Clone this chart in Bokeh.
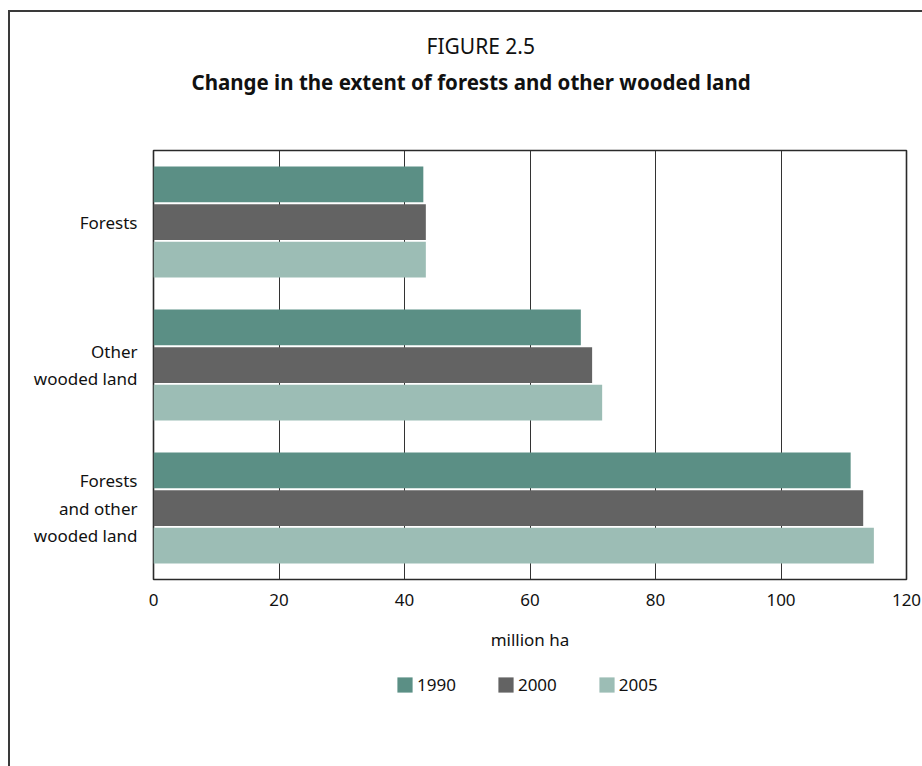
from bokeh.plotting import figure
from bokeh.models import (FactorRange, Range1d, FixedTicker, Legend, LegendItem,
                          Title, ColumnDataSource)
from bokeh.layouts import column
from bokeh.transform import dodge
from bokeh.embed import file_html
from bokeh.resources import INLINE

# ---- data ----
categories = ["Forests", "Other\nwooded land", "Forests\nand other\nwooded land"]
v1990 = [43.0, 68.1, 111.1]
v2000 = [43.4, 69.9, 113.1]
v2005 = [43.4, 71.5, 114.8]
years = ["1990", "2000", "2005"]
x_ticks = [0, 20, 40, 60, 80, 100, 120]

colors = ["#5b8f85", "#636363", "#9cbdb5"]
FONT = "Noto Sans"
EDGE = "#3a3a3a"

src = ColumnDataSource(dict(cat=categories, v1990=v1990, v2000=v2000, v2005=v2005))

# ---------- main chart ----------
p = figure(frame_width=753, frame_height=429, output_backend="svg", toolbar_location=None,
           y_range=FactorRange(factors=categories[::-1]),
           x_range=Range1d(0, 120),
           min_border_left=153, min_border_right=16,
           min_border_top=150, min_border_bottom=81)

p.styles = {"background": f"linear-gradient({EDGE},{EDGE}) 8px 10px / 2px 100% no-repeat, "
                          f"linear-gradient({EDGE},{EDGE}) 8px 10px / 100% 2px no-repeat, #ffffff"}
p.border_fill_alpha = 0
p.background_fill_color = "white"
p.outline_line_color = "#2a2a2a"
p.outline_line_width = 1.6

offs = [0.263, 0.0, -0.263]
for yr, col, off in zip(years, colors, offs):
    p.hbar(y=dodge("cat", off, range=p.y_range), left=0, right="v" + yr,
           height=0.25, source=src, fill_color=col, line_color=None)

p.xaxis.ticker = FixedTicker(ticks=x_ticks)
p.xaxis.major_tick_line_color = None
p.xaxis.minor_tick_line_color = None
p.xaxis.axis_line_color = None
p.xaxis.major_label_text_font = FONT
p.xaxis.major_label_text_font_size = "17px"
p.xaxis.major_label_text_color = "#111111"
p.xaxis.major_label_standoff = 8
p.xaxis.axis_label = "million ha"
p.xaxis.axis_label_text_font = FONT
p.xaxis.axis_label_text_font_size = "17px"
p.xaxis.axis_label_text_font_style = "normal"
p.xaxis.axis_label_text_color = "#111111"
p.xaxis.axis_label_standoff = 19

p.yaxis.major_tick_line_color = None
p.yaxis.axis_line_color = None
p.yaxis.major_label_text_font = FONT
p.yaxis.major_label_text_font_size = "17px"
p.yaxis.major_label_text_color = "#111111"
p.yaxis.major_label_standoff = 10

p.xgrid.grid_line_color = "#333333"
p.xgrid.grid_line_width = 1
p.ygrid.grid_line_color = None

spacer = Title(text=" ", text_font_size="1px", standoff=52)
t2 = Title(text="Change in the extent of forests and other wooded land", align="left",
           text_font=FONT, text_font_size="20.5px", text_font_style="bold",
           text_color="#111111", offset=38, standoff=0)
t1 = Title(text="FIGURE 2.5", align="left", text_font=FONT, text_font_size="21px",
           text_font_style="normal", text_color="#111111", offset=273, standoff=12)
p.add_layout(spacer, "above")
p.add_layout(t2, "above")
p.add_layout(t1, "above")

# ---------- legend strip ----------
lg = figure(frame_width=922, frame_height=106, output_backend="svg", toolbar_location=None,
            x_axis_type=None, y_axis_type=None, min_border=0,
            x_range=Range1d(0, 1), y_range=Range1d(0, 1))
lg.styles = {"background": f"linear-gradient({EDGE},{EDGE}) 8px 0px / 2px 100% no-repeat, #ffffff"}
lg.border_fill_alpha = 0
lg.background_fill_alpha = 0
lg.outline_line_color = None
lg.xgrid.grid_line_color = None
lg.ygrid.grid_line_color = None

nan = float("nan")
key_renderers = []
for yr, col in zip(years, colors):
    r = lg.hbar(y=[nan], right=[nan], left=[nan], height=0.1, fill_color=col, line_color=None)
    key_renderers.append(r)

legend = Legend(items=[LegendItem(label=y, renderers=[r]) for y, r in zip(years, key_renderers)],
                orientation="horizontal", location=(395, 70),
                glyph_width=19, glyph_height=19, label_standoff=3, spacing=40,
                padding=0, margin=0, border_line_color=None, background_fill_alpha=0,
                label_text_font=FONT, label_text_font_size="17px",
                label_text_color="#111111", label_height=19)
lg.add_layout(legend, "center")

layout = column(p, lg, spacing=0)
open("out.html", "w").write(file_html(layout, INLINE))
